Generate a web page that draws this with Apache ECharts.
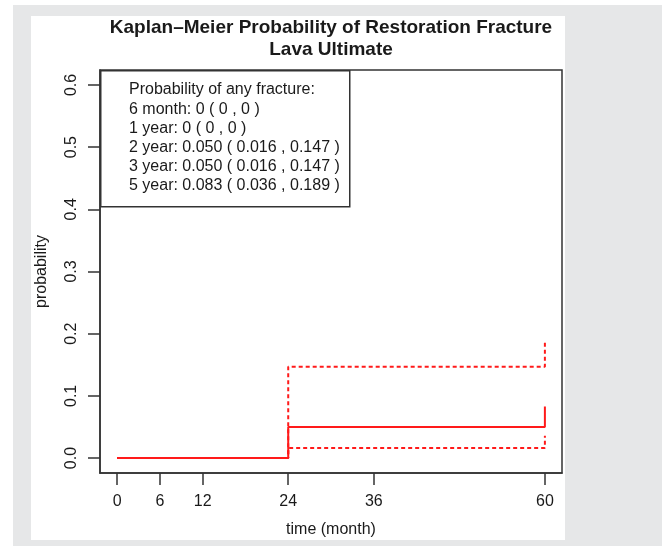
<!DOCTYPE html>
<html>
<head>
<meta charset="utf-8">
<script src="https://cdn.jsdelivr.net/npm/echarts@6/dist/echarts.min.js"></script>
<style>
  html, body { margin: 0; padding: 0; background: #fff; }
  .frame { position: absolute; left: 13px; top: 5px; width: 649px; height: 541px; background: #e6e7e8; }
  .panel { position: absolute; left: 31px; top: 16px; width: 534px; height: 524px; background: #fff; }
  #chart { position: absolute; left: 0; top: 0; width: 662px; height: 546px; }
</style>
</head>
<body>
<div class="frame"></div>
<div class="panel"></div>
<div id="chart"></div>
<script>
// tick labels
const timeTicks = [0, 6, 12, 24, 36, 60];
const probTicks = [0, 0.1, 0.2, 0.3, 0.4, 0.5, 0.6];

// Kaplan-Meier step estimate with 95% CI
const eventTimes = [0, 24, 60];
const estimate = [0, 0.050, 0.083];
const lowerCI = [0, 0.016, 0.036];
const upperCI = [0, 0.147, 0.189];

const summaryLines = [
  'Probability of any fracture:',
  '6 month: 0 ( 0 , 0 )',
  '1 year: 0 ( 0 , 0 )',
  '2 year: 0.050 ( 0.016 , 0.147 )',
  '3 year: 0.050 ( 0.016 , 0.147 )',
  '5 year: 0.083 ( 0.036 , 0.189 )'
];

const FONT = '"Liberation Sans", Arial, Helvetica, sans-serif';
const INK = '#1a1a1a';
const RED = '#ff1a1a';

const toPairs = (ys) => eventTimes.map((t, i) => [t, ys[i]]);

const chart = echarts.init(document.getElementById('chart'), null, { renderer: 'canvas' });

const legendText = summaryLines.map((s, i) => ({
  type: 'text',
  left: 129,
  top: 82 + i * 19.2,
  z: 20,
  style: { text: s, fontSize: 16, fontFamily: FONT, fill: INK }
}));

chart.setOption({
  backgroundColor: 'transparent',
  animation: false,
  title: {
    text: 'Kaplan\u2013Meier Probability of Restoration Fracture\nLava Ultimate',
    left: 'center',
    top: 12,
    textStyle: { fontSize: 19, fontWeight: 'bold', fontFamily: FONT, color: INK, lineHeight: 22 }
  },
  grid: {
    left: 100, right: 100, top: 70, bottom: 73,
    show: true, borderColor: '#333', borderWidth: 1.5, backgroundColor: 'transparent'
  },
  xAxis: {
    type: 'value',
    min: -2.4, max: 62.4,
    name: 'time (month)',
    nameLocation: 'middle',
    nameGap: 49,
    nameTextStyle: { fontSize: 16, fontFamily: FONT, color: INK },
    axisLine: { show: true, onZero: false, lineStyle: { color: '#333', width: 1.5 } },
    axisTick: { show: true, inside: false, length: 12, customValues: timeTicks, lineStyle: { color: '#333', width: 1.5 } },
    axisLabel: { customValues: timeTicks, margin: 21, fontSize: 16, fontFamily: FONT, color: INK },
    splitLine: { show: false }
  },
  yAxis: {
    type: 'value',
    min: -0.024, max: 0.624,
    name: 'probability',
    nameLocation: 'middle',
    nameGap: 50,
    nameTextStyle: { fontSize: 16, fontFamily: FONT, color: INK },
    axisLine: { show: true, onZero: false, lineStyle: { color: '#333', width: 1.5 } },
    axisTick: { show: true, inside: false, length: 12, customValues: probTicks, lineStyle: { color: '#333', width: 1.5 } },
    axisLabel: {
      customValues: probTicks, margin: 20, rotate: 90, fontSize: 16, fontFamily: FONT, color: INK,
      formatter: (v) => v.toFixed(1)
    },
    splitLine: { show: false }
  },
  graphic: [
    {
      type: 'rect',
      left: 100, top: 70, z: 15,
      shape: { width: 249, height: 136 },
      style: { fill: '#fff', stroke: '#333', lineWidth: 1.5 }
    },
    ...legendText
  ],
  series: [
    {
      name: 'upper', type: 'line', step: 'end', data: toPairs(upperCI),
      symbol: 'none', lineStyle: { color: RED, width: 2, type: [4, 3] }, z: 2
    },
    {
      name: 'lower', type: 'line', step: 'end', data: toPairs(lowerCI),
      symbol: 'none', lineStyle: { color: RED, width: 2, type: [4, 3] }, z: 2
    },
    {
      name: 'estimate', type: 'line', step: 'end', data: toPairs(estimate),
      symbol: 'none', lineStyle: { color: RED, width: 2 }, z: 3
    }
  ]
});
</script>
</body>
</html>
